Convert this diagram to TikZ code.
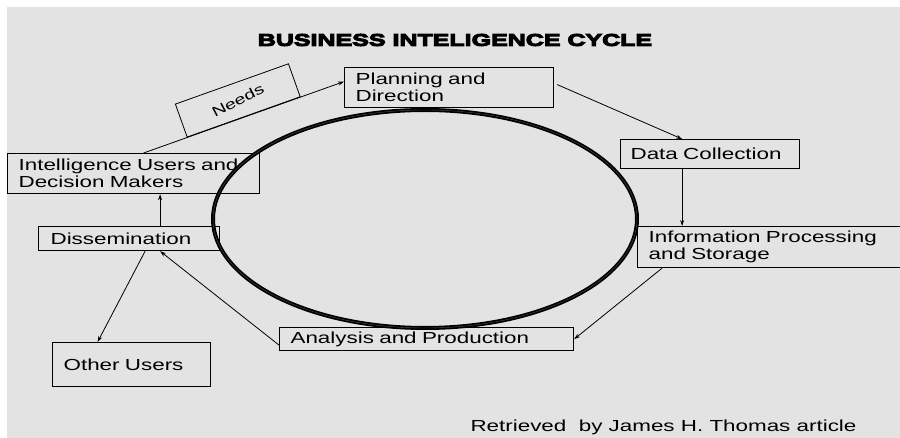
\documentclass[tikz,border=0pt]{standalone}
\usepackage{fontspec}
\setmainfont{Liberation Sans}[FakeStretch=1.4]
\newfontfamily\titlefont{Liberation Sans}[FakeStretch=1.47,FakeBold=6]
\usetikzlibrary{arrows.meta}
\definecolor{bggray}{gray}{0.89}
\begin{document}
\begin{tikzpicture}[x=1pt,y=-1pt,
	font=\fontsize{16}{17}\selectfont,
	box/.style={draw,line width=1.2pt,anchor=north west,align=left,inner xsep=11pt,inner ysep=0pt},
	needsbox/.style={draw,line width=0.8pt,anchor=south,minimum width=120pt,minimum height=35pt,inner sep=0pt,font=\fontsize{14}{14}\selectfont},
	arr/.style={line width=0.8pt,-{Stealth[length=6pt,width=4pt]}},
	ring/.style={line width=1.8pt,double=gray!60!black,double distance=0.4pt}]
	\useasboundingbox (0,0) rectangle (900,438);
	\fill[bggray] (7,7) rectangle (900,438);
	\node (title) at (455,40) {\titlefont\fontsize{17}{20}\selectfont\bfseries BUSINESS INTELIGENCE CYCLE};
	% the boxes of the cycle
	\node[box,text width=187pt,minimum height=40pt] (plan) at (344,67) {Planning and\\Direction};
	\node[box,text width=159pt,minimum height=29pt,inner xsep=10pt] (data) at (620,139) {Data Collection};
	\node[box,text width=243pt,minimum height=41pt] (proc) at (637,226) {Information Processing\\and Storage};
	\node[box,text width=272pt,minimum height=23pt] (ana) at (279,327) {Analysis and Production};
	\node[box,text width=136pt,minimum height=44pt] (other) at (52,342) {Other Users};
	\node[box,text width=157pt,minimum height=24pt,inner xsep=12pt] (diss) at (38,226) {Dissemination};
	\node[box,text width=230pt,minimum height=40pt] (users) at (7,153) {Intelligence Users and\\Decision Makers};
	% arrows
	\draw[arr] ([xshift=10pt]users.north) -- node[needsbox,sloped,pos=0.5] (needs) {\rotatebox{8}{Needs}} ([yshift=6pt]plan.west);
	\draw[arr] ([xshift=3pt,yshift=3pt]plan.east) -- ([xshift=-28pt]data.north);
	\draw[arr] ([xshift=-28pt]data.south) -- ([xshift=-28pt]data.south |- proc.north);
	\draw[arr] ([xshift=25pt]proc.south west) -- (ana.east);
	\draw[arr] ([yshift=-6pt]ana.west) -- ([xshift=31pt]diss.south);
	\draw[arr] ([xshift=16pt]diss.south) -- ([xshift=-34pt]other.north);
	\draw[arr] ([xshift=31pt]diss.north) -- ([xshift=31pt]diss.north |- users.south);
	% the cycle
	\draw[ring] (425,219) ellipse [x radius=212,y radius=109];
	\node[anchor=west] (src) at (467,427) {Retrieved\ \ by James H. Thomas article};
\end{tikzpicture}
\end{document}
